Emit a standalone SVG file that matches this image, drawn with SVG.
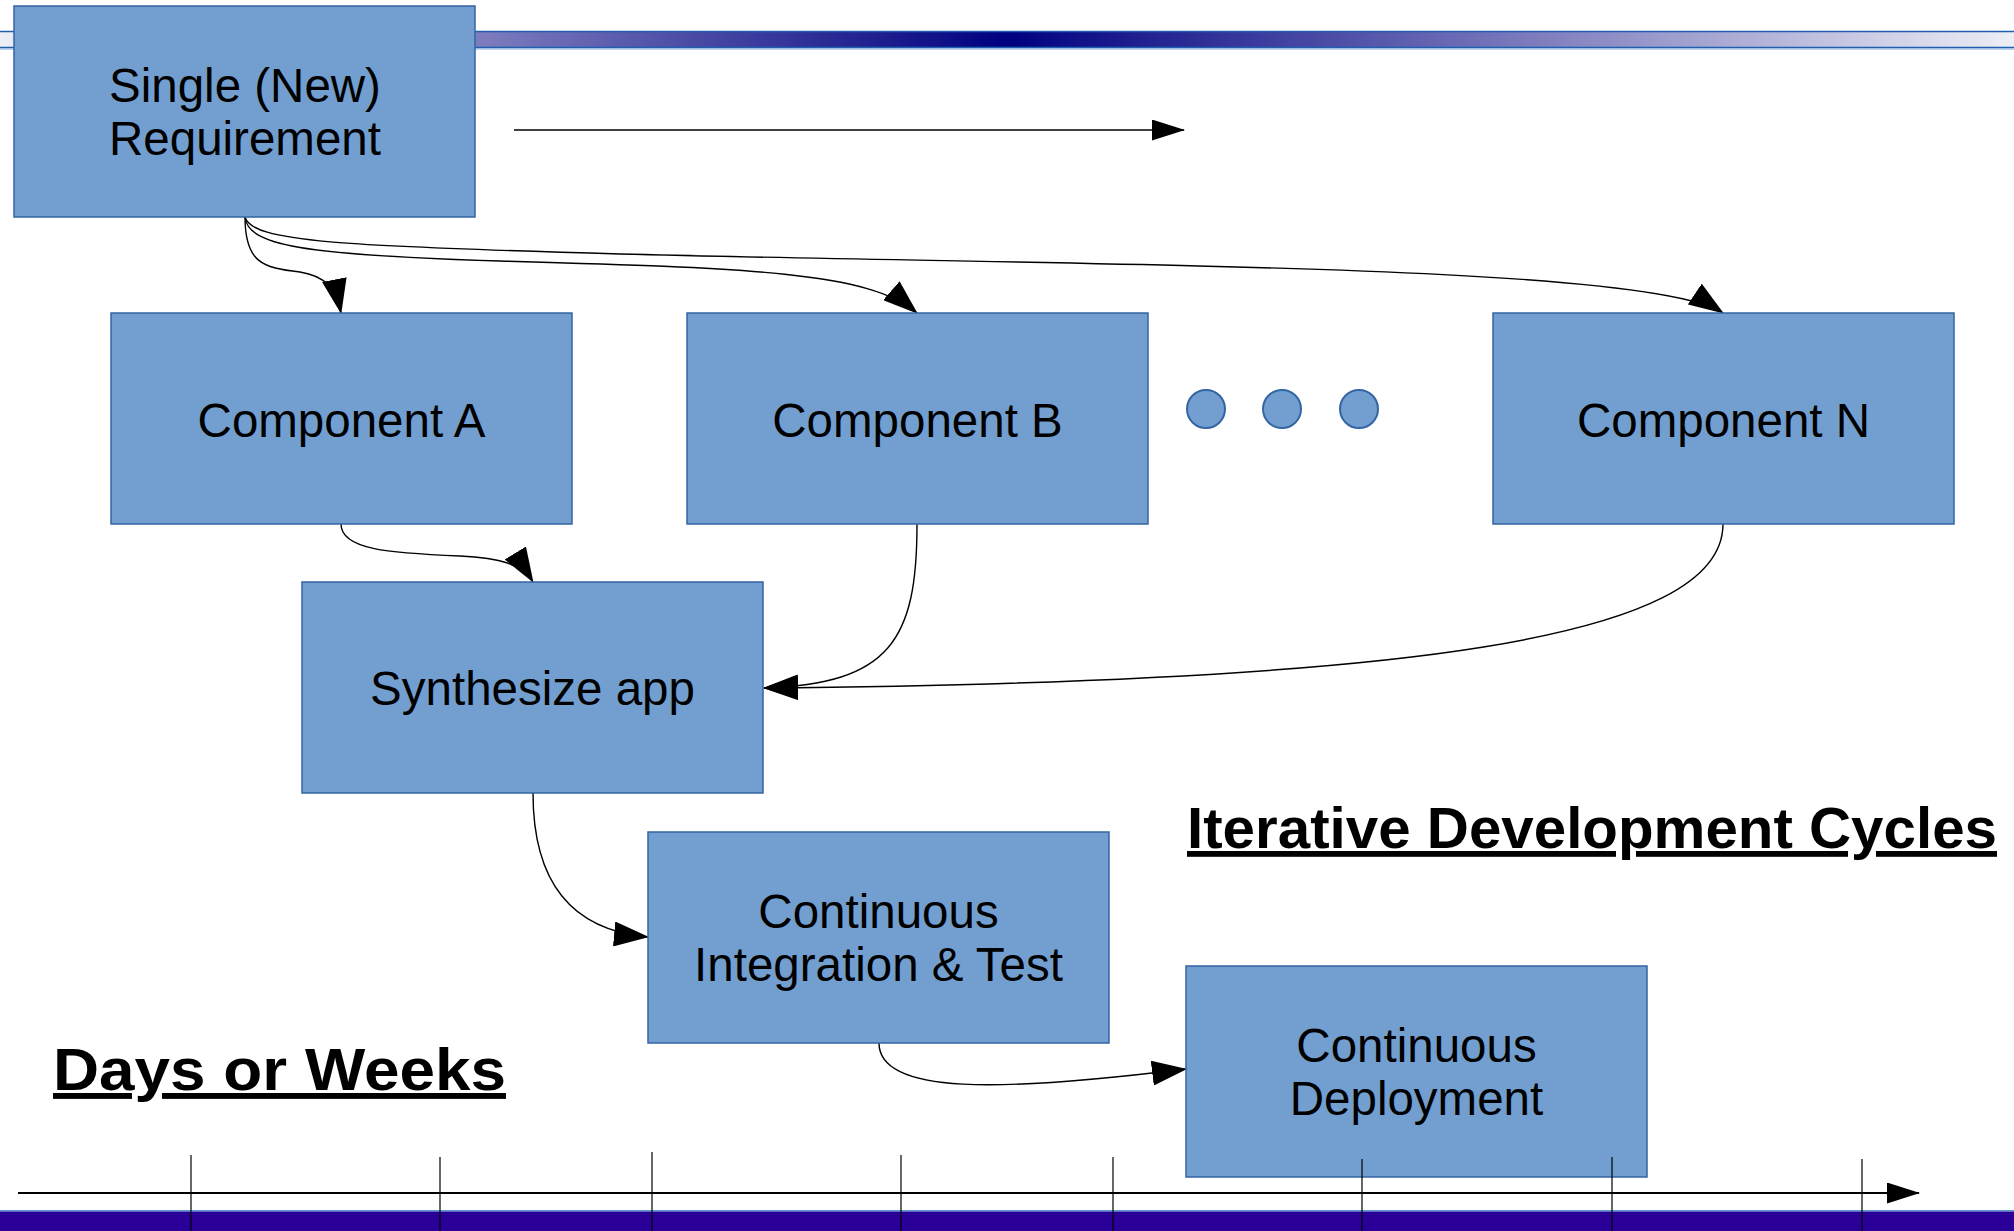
<svg xmlns="http://www.w3.org/2000/svg" width="2014" height="1231" viewBox="0 0 2014 1231">
<defs>
<linearGradient id="hdr" x1="0" y1="0" x2="2014" y2="0" gradientUnits="userSpaceOnUse">
<stop offset="0" stop-color="#eeeef6"/>
<stop offset="0.5" stop-color="#000080"/>
<stop offset="1" stop-color="#eeeef6"/>
</linearGradient>
<marker id="ah" viewBox="0 0 35 25" refX="34" refY="12.5" markerWidth="35" markerHeight="25" markerUnits="userSpaceOnUse" orient="auto">
<path d="M0,0 L35,12.5 L0,25 z" fill="#000"/>
</marker>
<marker id="ahs" viewBox="0 0 33 21" refX="32" refY="10.5" markerWidth="33" markerHeight="21" markerUnits="userSpaceOnUse" orient="auto">
<path d="M0,0 L33,10.5 L0,21 z" fill="#000"/>
</marker>
</defs>
<style>
.box{fill:#729fcf;stroke:#3465a4;stroke-width:1.5}
.lbl{font-family:"Liberation Sans",Arial,sans-serif;font-size:47.5px;fill:#000;text-anchor:middle}
.con{fill:none;stroke:#000;stroke-width:1.4;marker-end:url(#ah)}
.dot{fill:#729fcf;stroke:#3465a4;stroke-width:2}
.big{font-family:"Liberation Sans",Arial,sans-serif;font-weight:bold;fill:#000;text-decoration:underline}
.tick{stroke:#000;stroke-width:1.2}
</style>
<rect width="2014" height="1231" fill="#fff"/>
<g id="header-bar">
<rect x="0" y="31" width="2014" height="17" fill="url(#hdr)"/>
<line x1="0" y1="31.5" x2="2014" y2="31.5" stroke="#1f5fae" stroke-width="1.5"/>
<line x1="0" y1="47.5" x2="2014" y2="47.5" stroke="#1f5fae" stroke-width="1.5"/>
<line x1="0" y1="49" x2="2014" y2="49" stroke="#7aa8dc" stroke-width="1.2"/>
</g>
<g id="footer-bar">
<rect x="0" y="1210" width="2014" height="1.5" fill="#5b9bd5"/>
<rect x="0" y="1211.5" width="2014" height="19.5" fill="#2a0099"/>
</g>
<g id="connectors">
<line x1="514" y1="130" x2="1184" y2="130" stroke="#000" stroke-width="1.4" marker-end="url(#ahs)"/>
<path class="con" d="M245,217 C245,262 262,268 300,272 C325,276 336,288 341,313"/>
<path class="con" d="M245,217 C248,245 300,255 500,261 C750,268 870,272 917,313"/>
<path class="con" d="M245,217 C252,242 340,246 620,254 C1100,266 1650,264 1723,313"/>
<path class="con" d="M341,524 C341,550 390,553 460,556 C500,558 522,564 533,582"/>
<path class="con" d="M917,524 C917,640 890,684 764,688"/>
<path class="con" d="M1723,524 C1723,640 1400,682 764,688"/>
<path class="con" d="M533,793 C533,880 570,930 648,937"/>
<path class="con" d="M879,1043 C879,1095 1000,1092 1186,1069"/>
</g>
<g id="node-requirement">
<rect class="box" x="14" y="6" width="461" height="211"/>
<text class="lbl" x="245" y="102">Single (New)</text>
<text class="lbl" x="245" y="155">Requirement</text>
</g>
<g id="node-component-a">
<rect class="box" x="111" y="313" width="461" height="211"/>
<text class="lbl" x="341.5" y="437">Component A</text>
</g>
<g id="node-component-b">
<rect class="box" x="687" y="313" width="461" height="211"/>
<text class="lbl" x="917.5" y="437">Component B</text>
</g>
<g id="node-ellipsis">
<circle class="dot" cx="1206" cy="409" r="19"/>
<circle class="dot" cx="1282" cy="409" r="19"/>
<circle class="dot" cx="1359" cy="409" r="19"/>
</g>
<g id="node-component-n">
<rect class="box" x="1493" y="313" width="461" height="211"/>
<text class="lbl" x="1723.5" y="437">Component N</text>
</g>
<g id="node-synthesize">
<rect class="box" x="302" y="582" width="461" height="211"/>
<text class="lbl" x="532.5" y="705">Synthesize app</text>
</g>
<g id="node-ci">
<rect class="box" x="648" y="832" width="461" height="211"/>
<text class="lbl" x="878.5" y="928">Continuous</text>
<text class="lbl" x="878.5" y="981">Integration &amp; Test</text>
</g>
<g id="node-cd">
<rect class="box" x="1186" y="966" width="461" height="211"/>
<text class="lbl" x="1416.5" y="1062">Continuous</text>
<text class="lbl" x="1416.5" y="1115">Deployment</text>
</g>
<g id="labels">
<text class="big" x="1187" y="848" font-size="58" textLength="810" lengthAdjust="spacingAndGlyphs">Iterative Development Cycles</text>
<text class="big" x="53" y="1090" font-size="59" textLength="453" lengthAdjust="spacingAndGlyphs">Days or Weeks</text>
</g>
<g id="timeline">
<line x1="18" y1="1193" x2="1919" y2="1193" stroke="#000" stroke-width="2" marker-end="url(#ahs)"/>
<line class="tick" x1="191" y1="1155" x2="191" y2="1231"/>
<line class="tick" x1="440" y1="1157" x2="440" y2="1231"/>
<line class="tick" x1="652" y1="1152" x2="652" y2="1231"/>
<line class="tick" x1="901" y1="1155" x2="901" y2="1231"/>
<line class="tick" x1="1113" y1="1157" x2="1113" y2="1231"/>
<line class="tick" x1="1362" y1="1159" x2="1362" y2="1231"/>
<line class="tick" x1="1612" y1="1157" x2="1612" y2="1231"/>
<line class="tick" x1="1862" y1="1159" x2="1862" y2="1231"/>
</g>
</svg>
